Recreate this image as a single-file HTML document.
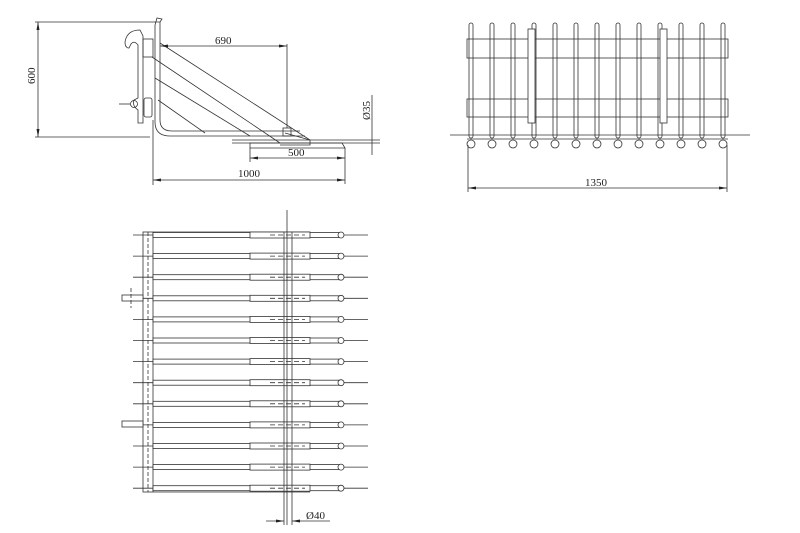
<!DOCTYPE html>
<html><head><style>html,body{margin:0;padding:0;background:#fff;}svg{display:block}text{font-family:"Liberation Serif",serif;font-size:11px;fill:#222}</style></head>
<body>
<svg width="800" height="533" viewBox="0 0 800 533" xmlns="http://www.w3.org/2000/svg">
<defs>
<marker id="a" markerWidth="8" markerHeight="6" refX="8" refY="3" orient="auto-start-reverse" markerUnits="userSpaceOnUse"><path d="M0,1.5 L8,3 L0,4.5z" fill="#222"/></marker>
</defs>
<g stroke="#333" stroke-width="0.8" fill="none">
<!-- SIDE VIEW -->
<line x1="35" y1="22" x2="160" y2="22"/>
<line x1="35" y1="137" x2="150" y2="137"/>
<line x1="38" y1="22" x2="38" y2="137" marker-start="url(#a)" marker-end="url(#a)"/>
<!-- hook plate -->
<path d="M143,36 L143,123 L138,123 L138,110 Q132,106 134,100 L138,98 L138,45 Q134,40 131,44 L129,48 Q125,48 125,42 Q127,30 140,30 Z"/>
<circle cx="134" cy="104" r="3.5"/>
<line x1="119" y1="104" x2="130" y2="104"/>
<rect x="143" y="39" width="10" height="18"/>
<rect x="144" y="98" width="8" height="19" rx="2"/>
<!-- upright tube -->
<path d="M155,25 L155,122 Q155,136 170,136 L305,136"/>
<path d="M160,22 L160,120 Q160,131 172,131 L300,131"/>
<path d="M155,25 L157,18 L162,19 L160,22"/>
<line x1="153" y1="120" x2="153" y2="185"/>
<!-- braces -->
<line x1="160" y1="43" x2="310" y2="140"/>
<line x1="152" y1="57" x2="280" y2="143"/>
<line x1="155" y1="78" x2="250" y2="136"/>
<line x1="158" y1="100" x2="205" y2="133"/>
<path d="M285,133 L310,140 L310,145 L280,145" />
<rect x="283" y="128" width="8" height="8"/>
<!-- fork -->
<path d="M250,143 L342,143 L345,148 L250,148 Z"/>
<line x1="232" y1="140" x2="380" y2="140"/>
<line x1="232" y1="143" x2="380" y2="143"/>
<line x1="287" y1="44" x2="287" y2="128"/>
<line x1="160" y1="46" x2="287" y2="46" marker-start="url(#a)" marker-end="url(#a)"/>
<line x1="250" y1="148" x2="250" y2="162"/>
<line x1="345" y1="148" x2="345" y2="184"/>
<line x1="250" y1="158" x2="345" y2="158" marker-start="url(#a)" marker-end="url(#a)"/>
<line x1="153" y1="180" x2="345" y2="180" marker-start="url(#a)" marker-end="url(#a)"/>
<line x1="372" y1="95" x2="372" y2="155"/>
<!-- FRONT VIEW -->
<line x1="450" y1="135" x2="750" y2="135"/>
<line x1="467" y1="139" x2="728" y2="139"/>
<rect x="467" y="39" width="261" height="19"/>
<rect x="467" y="99" width="261" height="18"/>
<g id="tines">
<rect x="469" y="23" width="4" height="115" rx="2"/><circle cx="471" cy="144" r="4" fill="#fff"/>
</g>
<use href="#tines" x="21"/><use href="#tines" x="42"/><use href="#tines" x="63"/><use href="#tines" x="84"/><use href="#tines" x="105"/><use href="#tines" x="126"/><use href="#tines" x="147"/><use href="#tines" x="168"/><use href="#tines" x="189"/><use href="#tines" x="210"/><use href="#tines" x="231"/><use href="#tines" x="252"/>
<rect x="528" y="29" width="7" height="94" fill="#fff"/>
<rect x="660" y="29" width="7" height="94" fill="#fff"/>
<line x1="468" y1="145" x2="468" y2="192"/>
<line x1="727" y1="145" x2="727" y2="192"/>
<line x1="468" y1="188" x2="727" y2="188" marker-start="url(#a)" marker-end="url(#a)"/>
<!-- PLAN VIEW -->
<rect x="143" y="232" width="10" height="260"/>
<line x1="148" y1="232" x2="148" y2="492" stroke-dasharray="4,2"/>
<line x1="153" y1="232" x2="310" y2="232"/>
<line x1="153" y1="492" x2="310" y2="492"/>
<g id="pt">
<line x1="133" y1="235" x2="368" y2="235"/>
<rect x="153" y="232.5" width="187" height="5" fill="#fff"/>
<rect x="250" y="232" width="60" height="6" fill="#fff"/>
<circle cx="341" cy="235" r="3" fill="#fff"/>
<line x1="270" y1="235" x2="305" y2="235" stroke-dasharray="5,3"/>
</g>
<use href="#pt" y="21.1"/><use href="#pt" y="42.2"/><use href="#pt" y="63.3"/><use href="#pt" y="84.4"/><use href="#pt" y="105.5"/><use href="#pt" y="126.6"/><use href="#pt" y="147.7"/><use href="#pt" y="168.8"/><use href="#pt" y="189.9"/><use href="#pt" y="211"/><use href="#pt" y="232.1"/><use href="#pt" y="253.2"/>
<line x1="287" y1="210" x2="287" y2="525"/>
<line x1="284" y1="232" x2="284" y2="525"/>
<line x1="292" y1="232" x2="292" y2="525"/>
<rect x="122" y="295" width="21" height="6" fill="#fff"/>
<rect x="122" y="421" width="21" height="6" fill="#fff"/>
<line x1="131" y1="288" x2="131" y2="308" stroke-dasharray="4,2"/>
<line x1="266" y1="521" x2="284" y2="521" marker-end="url(#a)"/>
<line x1="292" y1="521" x2="330" y2="521" marker-start="url(#a)"/>
</g>
<text x="215" y="44">690</text>
<text x="288" y="156">500</text>
<text x="238" y="177">1000</text>
<text x="585" y="186">1350</text>
<text x="306" y="519">Ø40</text>
<text transform="translate(35,84) rotate(-90)">600</text>
<text transform="translate(370,120) rotate(-90)">Ø35</text>
</svg>
</body></html>
